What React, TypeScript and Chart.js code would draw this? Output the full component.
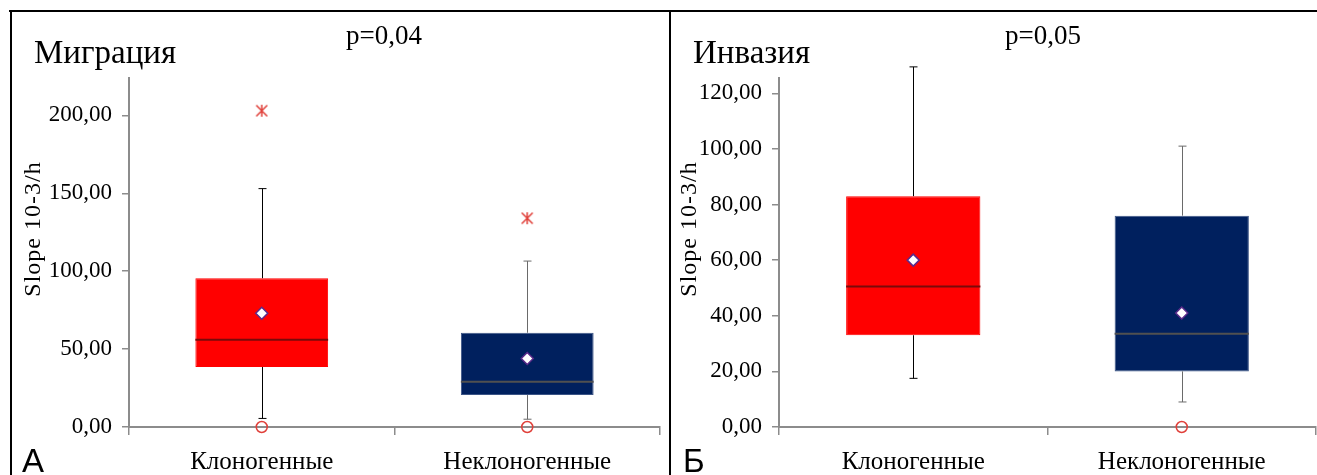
import React, { useEffect, useRef } from "react";
import { Chart, registerables } from "chart.js";

Chart.register(...registerables);

// ---------- data ----------
const categories = ["Клоногенные", "Неклоногенные"];

// Миграция
const migQ1 = [38.5, 20.5];
const migQ3 = [95.5, 60.5];
const migMedian = [56, 29];
const migMean = [73, 44];
const migLow = [5.5, 5];
const migHigh = [153, 106.5];
const migOutliers: (number | null)[] = [0, 0];
const migExtremes: (number | null)[] = [203, 134];
const migTicks = [0, 50, 100, 150, 200];
const migMax = 224;

// Инвазия
const invQ1 = [33, 20];
const invQ3 = [83, 76];
const invMedian = [50.5, 33.5];
const invMean = [60, 41];
const invLow = [17.5, 9];
const invHigh = [129.5, 101];
const invOutliers: (number | null)[] = [null, 0];
const invExtremes: (number | null)[] = [null, null];
const invTicks = [0, 20, 40, 60, 80, 100, 120];
const invMax = 125.5;

// ---------- styles ----------
const boxColors = ["#FF0000", "#00205E"];
const boxBorders = ["#FF0000", "#3B5486"];
const medianColors = ["#7A0A0A", "#505050"];
const whiskerColors = ["#000000", "#6A6A6A"];
const axisGray = "#8C8C8C";
const outlierRed = "#E0403A";

type PanelSpec = {
  title: string;
  pText: string;
  letter: string;
  q1: number[];
  q3: number[];
  median: number[];
  mean: number[];
  low: number[];
  high: number[];
  outliers: (number | null)[];
  extremes: (number | null)[];
  ticks: number[];
  max: number;
  yAxisWidth: number;
  canvasWidth: number;
  letterX: number;
  yTitleX: number;
};

const fmt = (v: number) => v.toFixed(2).replace(".", ",");

function makeStarMarker(): HTMLCanvasElement {
  const c = document.createElement("canvas");
  c.width = 14;
  c.height = 14;
  const g = c.getContext("2d")!;
  g.strokeStyle = outlierRed;
  g.lineWidth = 1.5;
  g.beginPath();
  g.moveTo(7, 1);
  g.lineTo(7, 13);
  g.moveTo(1.5, 1.5);
  g.lineTo(12.5, 12.5);
  g.moveTo(12.5, 1.5);
  g.lineTo(1.5, 12.5);
  g.stroke();
  return c;
}

function makeBoxPlugin(spec: PanelSpec) {
  return {
    id: "boxExtras",
    afterDatasetDraw(chart: any, args: any) {
      if (args.index !== 0) return;
      const meta = chart.getDatasetMeta(0);
      const y = chart.scales.y;
      const ctx = chart.ctx;
      ctx.save();
      meta.data.forEach((bar: any, i: number) => {
        const { x, width } = bar.getProps(["x", "width"], true);
        const cx = Math.round(x) + 0.5;
        const yLow = y.getPixelForValue(spec.low[i]);
        const yHigh = y.getPixelForValue(spec.high[i]);
        const yQ1 = y.getPixelForValue(spec.q1[i]);
        const yQ3 = y.getPixelForValue(spec.q3[i]);
        const yMed = y.getPixelForValue(spec.median[i]);
        ctx.strokeStyle = whiskerColors[i];
        ctx.lineWidth = 1;
        ctx.beginPath();
        ctx.moveTo(cx, yQ3);
        ctx.lineTo(cx, yHigh);
        ctx.moveTo(cx, yQ1);
        ctx.lineTo(cx, yLow);
        ctx.moveTo(cx - 4, yHigh);
        ctx.lineTo(cx + 4, yHigh);
        ctx.moveTo(cx - 4, yLow);
        ctx.lineTo(cx + 4, yLow);
        ctx.stroke();
        ctx.strokeStyle = medianColors[i];
        ctx.lineWidth = 2;
        ctx.beginPath();
        ctx.moveTo(x - width / 2, yMed);
        ctx.lineTo(x + width / 2, yMed);
        ctx.stroke();
      });
      ctx.restore();
    },
  };
}

function makeDecorPlugin(spec: PanelSpec) {
  return {
    id: "decor",
    afterDraw(chart: any) {
      const ctx = chart.ctx;
      ctx.save();
      ctx.fillStyle = "#000";
      ctx.textBaseline = "alphabetic";
      ctx.textAlign = "left";
      ctx.font = '33px "Liberation Serif"';
      ctx.fillText(spec.title, 22, 51);
      ctx.textAlign = "center";
      ctx.font = '27px "Liberation Serif"';
      ctx.fillText(spec.pText, 372, 32);
      ctx.textAlign = "left";
      ctx.font = '33px "Liberation Sans"';
      ctx.fillText(spec.letter, spec.letterX, 460);
      ctx.translate(spec.yTitleX, 217);
      ctx.rotate(-Math.PI / 2);
      ctx.textAlign = "center";
      ctx.textBaseline = "middle";
      ctx.font = '24px "Liberation Serif"';
      try {
        (ctx as any).letterSpacing = "1px";
      } catch (e) {}
      ctx.fillText("Slope 10-3/h", 0, 0);
      ctx.restore();
    },
  };
}

function BoxPanel({ spec, left }: { spec: PanelSpec; left: number }) {
  const ref = useRef<HTMLCanvasElement | null>(null);
  useEffect(() => {
    if (!ref.current) return;
    const pointBase = {
      type: "line" as const,
      showLine: false,
      clip: false as any,
      order: 0,
    };
    const chart = new Chart(ref.current, {
      type: "bar",
      data: {
        labels: categories,
        datasets: [
          {
            type: "bar",
            data: spec.q1.map((v, i) => [v, spec.q3[i]]) as any,
            backgroundColor: boxColors,
            borderColor: boxBorders,
            borderWidth: 1,
            borderSkipped: false,
            barPercentage: 0.5,
            categoryPercentage: 1,
            order: 3,
          },
          {
            ...pointBase,
            data: spec.mean,
            pointStyle: "rectRot",
            pointRadius: 6,
            pointBackgroundColor: "#FFFFFF",
            pointBorderColor: "#5A2A8A",
            pointBorderWidth: 1.5,
          } as any,
          {
            ...pointBase,
            data: spec.outliers,
            pointStyle: "circle",
            pointRadius: 5.5,
            pointBackgroundColor: "rgba(255,255,255,0)",
            pointBorderColor: outlierRed,
            pointBorderWidth: 1.5,
          } as any,
          {
            ...pointBase,
            data: spec.extremes,
            pointStyle: makeStarMarker(),
            pointRadius: 7,
          } as any,
        ],
      },
      options: {
        responsive: false,
        maintainAspectRatio: false,
        animation: false,
        devicePixelRatio: 1,
        layout: { padding: { top: 66, left: 0, right: 0, bottom: 0 } },
        plugins: {
          legend: { display: false },
          tooltip: { enabled: false },
        },
        scales: {
          x: {
            type: "category",
            offset: true,
            grid: {
              offset: true,
              drawOnChartArea: false,
              drawTicks: true,
              tickLength: 8,
              color: axisGray,
              lineWidth: 1.5,
            },
            border: { display: true, color: axisGray, width: 2 },
            ticks: {
              padding: 12,
              color: "#000",
              font: { family: '"Liberation Serif"', size: 25 },
              maxRotation: 0,
            },
            afterFit: (scale: any) => {
              scale.height = 48;
            },
          },
          y: {
            type: "linear",
            min: 0,
            max: spec.max,
            afterBuildTicks: (scale: any) => {
              scale.ticks = spec.ticks.map((v) => ({ value: v }));
            },
            grid: {
              drawOnChartArea: false,
              drawTicks: true,
              tickLength: 7,
              color: axisGray,
              lineWidth: 1.5,
            },
            border: { display: true, color: axisGray, width: 2 },
            ticks: {
              padding: 10,
              color: "#000",
              font: { family: '"Liberation Serif"', size: 23 },
              callback: (v: any) => fmt(Number(v)),
            },
            afterFit: (scale: any) => {
              scale.width = spec.yAxisWidth;
            },
          },
        },
      },
      plugins: [makeBoxPlugin(spec), makeDecorPlugin(spec)],
    } as any);
    return () => chart.destroy();
  }, [spec]);
  return (
    <canvas
      ref={ref}
      width={spec.canvasWidth}
      height={463}
      style={{ position: "absolute", left, top: 12, width: spec.canvasWidth, height: 463 }}
    />
  );
}

const migSpec: PanelSpec = {
  title: "Миграция",
  pText: "p=0,04",
  letter: "А",
  q1: migQ1,
  q3: migQ3,
  median: migMedian,
  mean: migMean,
  low: migLow,
  high: migHigh,
  outliers: migOutliers,
  extremes: migExtremes,
  ticks: migTicks,
  max: migMax,
  yAxisWidth: 117,
  canvasWidth: 656,
  letterX: 10,
  yTitleX: 22,
};

const invSpec: PanelSpec = {
  title: "Инвазия",
  pText: "p=0,05",
  letter: "Б",
  q1: invQ1,
  q3: invQ3,
  median: invMedian,
  mean: invMean,
  low: invLow,
  high: invHigh,
  outliers: invOutliers,
  extremes: invExtremes,
  ticks: invTicks,
  max: invMax,
  yAxisWidth: 108,
  canvasWidth: 653,
  letterX: 12,
  yTitleX: 19,
};

export default function App() {
  return (
    <div
      style={{
        position: "absolute",
        left: 0,
        top: 0,
        width: 1317,
        height: 475,
        overflow: "hidden",
        background: "#fff",
      }}
    >
      <div style={{ position: "absolute", left: 9, top: 10, width: 1308, height: 2, background: "#000" }} />
      <div style={{ position: "absolute", left: 10, top: 10, width: 2, height: 465, background: "#000" }} />
      <div style={{ position: "absolute", left: 669, top: 10, width: 2, height: 465, background: "#000" }} />
      <BoxPanel spec={migSpec} left={12} />
      <BoxPanel spec={invSpec} left={671} />
    </div>
  );
}
